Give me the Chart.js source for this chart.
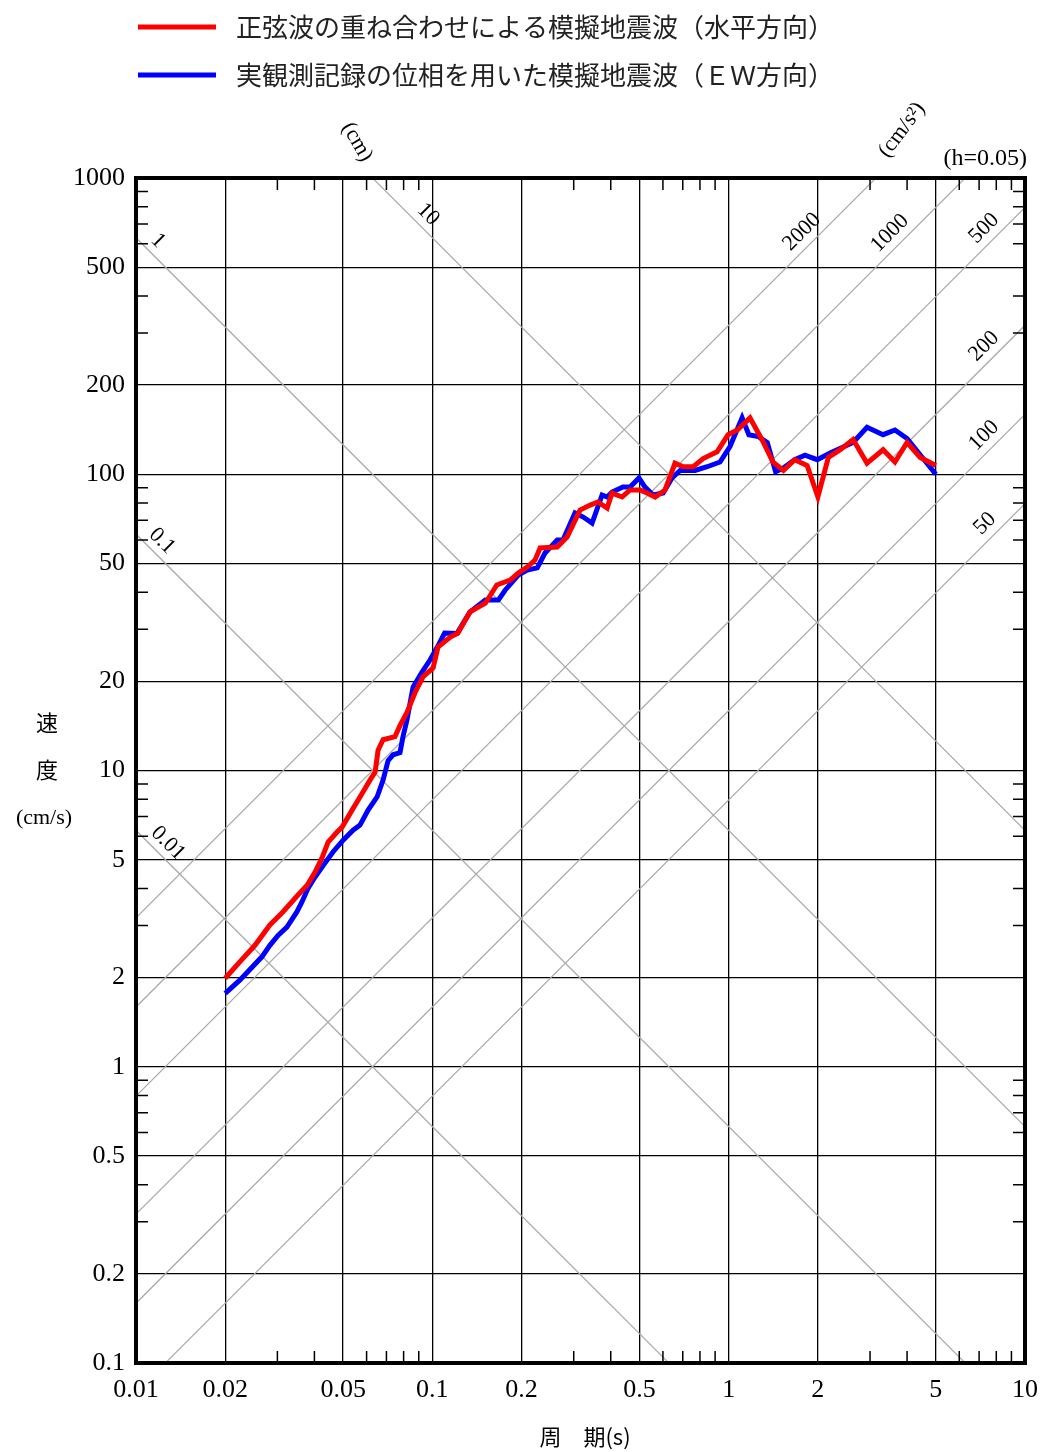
<!DOCTYPE html>
<html>
<head>
<meta charset="utf-8">
<script src="https://cdn.jsdelivr.net/npm/chart.js@4.4.1/dist/chart.umd.min.js"></script>
<style>
  html, body { margin: 0; padding: 0; background: #fff; }
</style>
</head>
<body>
<canvas id="chart" width="1041" height="1452"></canvas>
<script>
const seriesNames = [
  '正弦波の重ね合わせによる模擬地震波（水平方向）',
  '実観測記録の位相を用いた模擬地震波（ＥＷ方向）'
];

// period (s) / velocity (cm/s)
const redPeriod = [0.020, 0.0224, 0.0252, 0.0283, 0.0313, 0.0352, 0.0378, 0.0402, 0.0424, 0.0445,
  0.0477, 0.0496, 0.0536, 0.0570, 0.0616, 0.0641, 0.0656, 0.0682, 0.0748, 0.0778,
  0.0821, 0.0874, 0.0930, 0.1006, 0.1045, 0.115, 0.122, 0.134, 0.151, 0.165,
  0.183, 0.195, 0.209, 0.222, 0.231, 0.264, 0.285, 0.315, 0.341, 0.362,
  0.389, 0.404, 0.437, 0.465, 0.502, 0.530, 0.565, 0.610, 0.659, 0.702,
  0.759, 0.820, 0.914, 0.995, 1.07, 1.18, 1.30, 1.41, 1.53, 1.67,
  1.84, 2.00, 2.17, 2.38, 2.63, 2.93, 3.32, 3.64, 4.00, 4.43, 5.00];
const redVelocity = [1.99, 2.26, 2.57, 3.01, 3.33, 3.80, 4.10, 4.54, 5.06, 5.73,
  6.20, 6.44, 7.35, 8.14, 9.28, 9.88, 11.7, 12.7, 13.0, 14.2,
  15.7, 18.3, 20.7, 22.2, 26.1, 28.2, 29.1, 34.3, 36.7, 42.3,
  43.9, 46.4, 48.6, 51.3, 56.4, 56.8, 61.4, 75.7, 78.7, 80.6,
  76.9, 86.4, 83.8, 88.5, 88.5, 86.4, 83.8, 88.5, 109, 106,
  106, 113, 119, 136, 141, 155, 130, 110, 103, 112,
  107, 83.8, 114, 121, 131, 109, 121, 110, 128, 114, 107];

const bluePeriod = [0.020, 0.0224, 0.0266, 0.0283, 0.0302, 0.0323, 0.0349, 0.0363, 0.0381, 0.0402,
  0.0434, 0.0462, 0.0500, 0.0540, 0.0570, 0.0607, 0.0651, 0.0682, 0.0709, 0.0737,
  0.0778, 0.0796, 0.0821, 0.0861, 0.0923, 0.0982, 0.104, 0.110, 0.121, 0.134,
  0.151, 0.167, 0.176, 0.195, 0.209, 0.226, 0.240, 0.264, 0.276, 0.303,
  0.323, 0.346, 0.374, 0.389, 0.404, 0.440, 0.465, 0.498, 0.522, 0.556,
  0.601, 0.644, 0.686, 0.770, 0.846, 0.935, 1.01, 1.11, 1.17, 1.26,
  1.35, 1.44, 1.53, 1.67, 1.81, 1.99, 2.20, 2.63, 2.93, 3.32,
  3.64, 4.00, 4.53, 5.00];
const blueVelocity = [1.77, 1.96, 2.35, 2.57, 2.78, 2.96, 3.33, 3.60, 4.01, 4.37,
  4.87, 5.31, 5.82, 6.29, 6.54, 7.35, 8.14, 9.28, 10.8, 11.3,
  11.5, 13.0, 14.8, 19.1, 21.5, 23.6, 26.1, 29.1, 29.0, 34.3,
  37.6, 37.6, 40.6, 45.7, 47.5, 48.3, 54.2, 60.0, 60.0, 74.0,
  71.7, 68.4, 85.1, 83.8, 87.1, 90.5, 90.5, 97.1, 90.5, 85.1,
  86.4, 97.1, 103, 103, 106, 110, 124, 155, 136, 134,
  128, 102, 105, 112, 116, 112, 118, 128, 144, 136,
  141, 132, 113, 100];

const xTicks = [0.01, 0.02, 0.05, 0.1, 0.2, 0.5, 1, 2, 5, 10];
const xTickLabels = ['0.01', '0.02', '0.05', '0.1', '0.2', '0.5', '1', '2', '5', '10'];
const yTicks = [0.1, 0.2, 0.5, 1, 2, 5, 10, 20, 50, 100, 200, 500, 1000];
const yTickLabels = ['0.1', '0.2', '0.5', '1', '2', '5', '10', '20', '50', '100', '200', '500', '1000'];
const minorSteps = [3, 4, 6, 7, 8, 9];

// tripartite guide lines
const dispLines = [0.01, 0.1, 1, 10];            // cm
const dispLabels = ['0.01', '0.1', '1', '10'];
const accLines = [50, 100, 200, 500, 1000, 2000]; // cm/s2
const accLabels = ['50', '100', '200', '500', '1000', '2000'];

const SERIF = "'Liberation Serif', 'DejaVu Serif', serif";
const CJK = "'Noto Sans CJK JP', sans-serif";

const toPoints = (xs, ys) => xs.map((t, i) => ({ x: t, y: ys[i] }));

const tripartite = {
  id: 'tripartite',
  beforeDatasetsDraw(chart) {
    const { ctx, chartArea: a, scales: { x, y } } = chart;
    ctx.save();
    ctx.beginPath();
    ctx.rect(a.left, a.top, a.right - a.left, a.bottom - a.top);
    ctx.clip();
    ctx.strokeStyle = '#a9a9a9';
    ctx.lineWidth = 1.2;
    const t0 = x.min, t1 = x.max;
    dispLines.forEach(d => {
      ctx.beginPath();
      ctx.moveTo(x.getPixelForValue(t0), y.getPixelForValue(2 * Math.PI * d / t0));
      ctx.lineTo(x.getPixelForValue(t1), y.getPixelForValue(2 * Math.PI * d / t1));
      ctx.stroke();
    });
    accLines.forEach(A => {
      ctx.beginPath();
      ctx.moveTo(x.getPixelForValue(t0), y.getPixelForValue(A * t0 / (2 * Math.PI)));
      ctx.lineTo(x.getPixelForValue(t1), y.getPixelForValue(A * t1 / (2 * Math.PI)));
      ctx.stroke();
    });
    ctx.restore();

    // labels on the guide lines
    ctx.save();
    ctx.fillStyle = '#000';
    ctx.font = '22px ' + SERIF;
    ctx.textAlign = 'center';
    ctx.textBaseline = 'middle';
    const dispLabelX = [a.left + 32, a.left + 26, a.left + 22, 428];
    dispLines.forEach((d, i) => {
      const px = dispLabelX[i];
      const py = y.getPixelForValue(2 * Math.PI * d / x.getValueForPixel(px)) - 19;
      ctx.save();
      ctx.translate(px, py);
      ctx.rotate(Math.PI / 4);
      ctx.fillText(dispLabels[i], 0, 0);
      ctx.restore();
    });
    const accLabelX = [a.right - 40, a.right - 41, a.right - 41, a.right - 41, 890, 802];
    accLines.forEach((A, i) => {
      const px = accLabelX[i];
      const py = y.getPixelForValue(A * x.getValueForPixel(px) / (2 * Math.PI)) - 20;
      ctx.save();
      ctx.translate(px, py);
      ctx.rotate(-Math.PI / 4);
      ctx.fillText(accLabels[i], 0, 0);
      ctx.restore();
    });
    ctx.restore();
  },
  afterDraw(chart) {
    const { ctx, chartArea: a, scales: { x, y } } = chart;
    ctx.save();
    // minor ticks on all four sides
    ctx.strokeStyle = '#000';
    ctx.lineWidth = 1.5;
    const len = 12;
    for (let e = -2; e < 1; e++) {
      minorSteps.forEach(m => {
        const px = x.getPixelForValue(m * Math.pow(10, e));
        ctx.beginPath();
        ctx.moveTo(px, a.top); ctx.lineTo(px, a.top + len);
        ctx.moveTo(px, a.bottom); ctx.lineTo(px, a.bottom - len);
        ctx.stroke();
      });
    }
    for (let e = -1; e < 3; e++) {
      minorSteps.forEach(m => {
        const py = y.getPixelForValue(m * Math.pow(10, e));
        ctx.beginPath();
        ctx.moveTo(a.left, py); ctx.lineTo(a.left + len, py);
        ctx.moveTo(a.right, py); ctx.lineTo(a.right - len, py);
        ctx.stroke();
      });
    }
    // frame
    ctx.lineWidth = 4;
    ctx.strokeRect(a.left, a.top, a.right - a.left, a.bottom - a.top);

    // legend
    const colors = ['#ff0000', '#0000ff'];
    const rows = [27, 75];
    ctx.lineWidth = 5;
    ctx.textAlign = 'left';
    ctx.textBaseline = 'middle';
    ctx.font = '26px ' + CJK;
    ctx.fillStyle = '#222';
    rows.forEach((ry, i) => {
      ctx.strokeStyle = colors[i];
      ctx.beginPath();
      ctx.moveTo(138, ry); ctx.lineTo(216, ry);
      ctx.stroke();
      ctx.fillText(seriesNames[i], 236, ry);
    });

    // unit labels around the frame
    ctx.fillStyle = '#000';
    ctx.textAlign = 'center';
    ctx.font = '22px ' + SERIF;
    ctx.save();
    ctx.translate(357, 142);
    ctx.rotate(Math.PI / 3);
    ctx.fillText('(cm)', 0, 0);
    ctx.restore();
    ctx.save();
    ctx.translate(902, 130);
    ctx.rotate(-Math.PI / 3.4);
    ctx.fillText('(cm/s²)', 0, 0);
    ctx.restore();
    ctx.font = '24px ' + SERIF;
    ctx.textAlign = 'right';
    ctx.fillText('(h=0.05)', a.right + 2, 159);

    // axis titles
    ctx.textAlign = 'center';
    ctx.font = '22px ' + CJK;
    ctx.fillText('速', 47, 723);
    ctx.fillText('度', 47, 770);
    ctx.font = '22px ' + SERIF;
    ctx.fillText('(cm/s)', 44, 818);
    ctx.font = '22px ' + CJK;
    ctx.fillText('周　期(s)', 585, 1437);
    ctx.restore();
  }
};

new Chart(document.getElementById('chart'), {
  type: 'line',
  data: {
    datasets: [
      {
        label: seriesNames[0],
        data: toPoints(redPeriod, redVelocity),
        borderColor: '#ff0000',
        borderWidth: 5,
        pointRadius: 0,
        tension: 0
      },
      {
        label: seriesNames[1],
        data: toPoints(bluePeriod, blueVelocity),
        borderColor: '#0000ff',
        borderWidth: 5,
        pointRadius: 0,
        tension: 0
      }
    ]
  },
  options: {
    responsive: false,
    animation: false,
    layout: { padding: { top: 178, right: 16, left: 0, bottom: 0 } },
    plugins: {
      legend: { display: false },
      tooltip: { enabled: false }
    },
    scales: {
      x: {
        type: 'logarithmic',
        min: 0.01,
        max: 10,
        afterBuildTicks: (s) => { s.ticks = xTicks.map(v => ({ value: v })); },
        afterFit: (s) => { s.height = 89; s.paddingLeft = 0; s.paddingRight = 0; },
        grid: { color: '#000', lineWidth: 1.3, drawTicks: false },
        border: { display: false },
        ticks: {
          padding: 12,
          maxRotation: 0,
          autoSkip: false,
          color: '#000',
          font: { family: SERIF, size: 26 },
          callback: (v, i) => xTickLabels[i]
        }
      },
      y: {
        type: 'logarithmic',
        min: 0.1,
        max: 1000,
        afterBuildTicks: (s) => { s.ticks = yTicks.map(v => ({ value: v })); },
        afterFit: (s) => { s.width = 136; s.paddingTop = 0; s.paddingBottom = 0; },
        grid: { color: '#000', lineWidth: 1.3, drawTicks: false },
        border: { display: false },
        ticks: {
          padding: 11,
          autoSkip: false,
          color: '#000',
          font: { family: SERIF, size: 26 },
          callback: (v, i) => yTickLabels[i]
        }
      }
    }
  },
  plugins: [tripartite]
});
</script>
</body>
</html>
